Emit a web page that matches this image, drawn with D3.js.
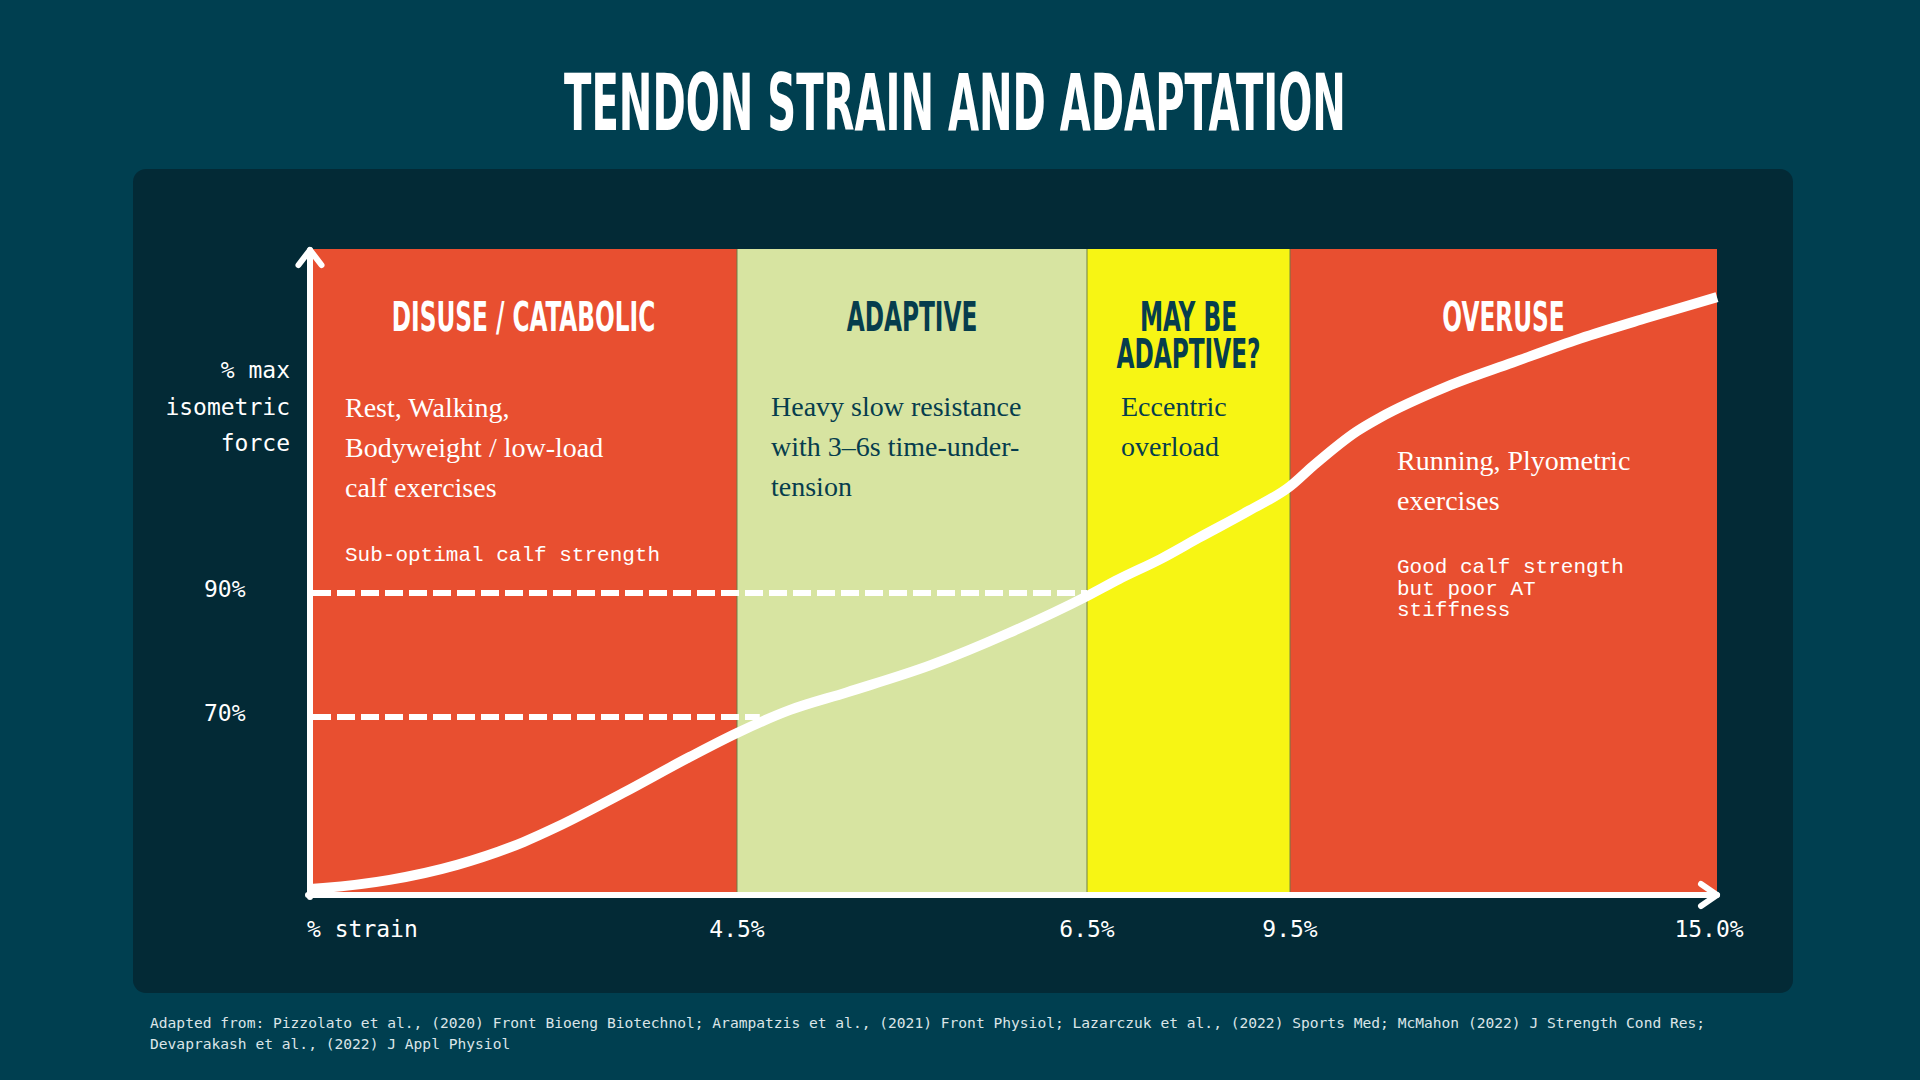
<!DOCTYPE html>
<html>
<head>
<meta charset="utf-8">
<title>Tendon strain and adaptation</title>
<script src="https://cdn.jsdelivr.net/npm/d3@7"></script>
<style>
  body { margin: 0; background: #003f50; }
  svg { display: block; }
</style>
</head>
<body>
<div id="chart"></div>
<script>
// ---- data ----
var strainTicks = [4.5, 6.5, 9.5, 15.0];
var strainLabels = ["4.5%", "6.5%", "9.5%", "15.0%"];
var forceTicks = [70, 90];
var forceLabels = ["70%", "90%"];

var zoneStart = [0, 4.5, 6.5, 9.5];
var zoneEnd = [4.5, 6.5, 9.5, 15];
var zoneTitles = [["DISUSE / CATABOLIC"], ["ADAPTIVE"], ["MAY BE", "ADAPTIVE?"], ["OVERUSE"]];
var zoneActivities = [
  ["Rest, Walking,", "Bodyweight / low-load", "calf exercises"],
  ["Heavy slow resistance", "with 3\u20136s time-under-", "tension"],
  ["Eccentric", "overload"],
  ["Running, Plyometric", "exercises"]
];
var zoneNotes = [
  ["Sub-optimal calf strength"],
  [],
  [],
  ["Good calf strength", "but poor AT", "stiffness"]
];

// force-strain curve
var curveStrain = [0, 0.14, 0.84, 1.55, 2.25, 2.6, 3.3, 4.0, 4.5, 4.8, 5.13, 5.61, 6.05, 6.5,
                   6.97, 7.6, 8.15, 8.9, 9.5, 9.8, 10.36, 10.66, 11.52, 12.37, 13.24, 14.1, 15];
var curveForce = [0, 0.4, 3.7, 9.8, 19.1, 25.2, 39.1, 53.7, 63.5, 71.1, 74.0, 78.4, 83.5, 89.5,
                  90.4, 91.0, 91.6, 92.4, 93.1, 93.7, 94.7, 95.1, 96.0, 96.7, 97.4, 98.0, 98.6];

// dashed reference levels
var refForce = [70, 90];
var refStrainEnd = [4.63, 6.5];

var footnoteLines = [
  "Adapted from: Pizzolato et al., (2020) Front Bioeng Biotechnol; Arampatzis et al., (2021) Front Physiol; Lazarczuk et al., (2022) Sports Med; McMahon (2022) J Strength Cond Res;",
  "Devaprakash et al., (2022) J Appl Physiol"
];

// ---- styles / layout ----
var W = 1920, H = 1080;
var zoneFill = ["#e84f30", "#d7e4a1", "#f7f514", "#e84f30"];
var zoneInk = ["#ffffff", "#063d4d", "#063d4d", "#ffffff"];
var textDx = [35, 34, 34, 107];
var actTop = [417, 416, 416, 470];
var noteTop = [561, 0, 0, 573];
var tickDx = [0, 0, 0, -8];

var condFont = "'Liberation Sans Narrow', 'DejaVu Sans Condensed', 'Roboto', sans-serif";
var serifFont = "'Liberation Serif', 'DejaVu Serif', serif";
var monoFont = "'DejaVu Sans Mono', 'Liberation Mono', monospace";
var noteFont = "'Liberation Mono', 'DejaVu Sans Mono', monospace";

var svg = d3.select("#chart").append("svg")
    .attr("width", W)
    .attr("height", H);

svg.append("rect").attr("width", W).attr("height", H).attr("fill", "#003f50");
svg.append("rect")
    .attr("x", 133).attr("y", 169)
    .attr("width", 1660).attr("height", 824)
    .attr("rx", 13)
    .attr("fill", "#032a36");

// schematic, piecewise scales
var x = d3.scaleLinear()
    .domain([0, 4.5, 6.5, 9.5, 15])
    .range([310, 737, 1087, 1290, 1717]);
var y = d3.scaleLinear()
    .domain([0, 70, 90, 100])
    .range([889, 717, 593, 249]);
var axisY = 895;

// zones
var zones = svg.append("g");
zones.selectAll("rect")
    .data(zoneStart)
    .enter().append("rect")
      .attr("x", function(d){ return x(d); })
      .attr("y", y(100))
      .attr("width", function(d, i){ return x(zoneEnd[i]) - x(d); })
      .attr("height", axisY - y(100))
      .attr("fill", function(d, i){ return zoneFill[i]; });
zones.selectAll("line")
    .data(zoneStart.slice(1))
    .enter().append("line")
      .attr("x1", function(d){ return x(d); })
      .attr("x2", function(d){ return x(d); })
      .attr("y1", y(100))
      .attr("y2", axisY)
      .attr("stroke", "#6a7d47")
      .attr("stroke-width", 1.2)
      .attr("opacity", 0.8);

// dashed reference lines
svg.append("g").selectAll("line")
    .data(refForce)
    .enter().append("line")
      .attr("x1", x(0) + 3)
      .attr("x2", function(d, i){ return x(refStrainEnd[i]); })
      .attr("y1", function(d){ return y(d); })
      .attr("y2", function(d){ return y(d); })
      .attr("stroke", "#ffffff")
      .attr("stroke-width", 6)
      .attr("stroke-dasharray", "18,6");

// curve
var line = d3.line()
    .x(function(d){ return x(d[0]); })
    .y(function(d){ return y(d[1]); })
    .curve(d3.curveMonotoneX);
svg.append("path")
    .attr("d", line(d3.zip(curveStrain, curveForce)))
    .attr("fill", "none")
    .attr("stroke", "#ffffff")
    .attr("stroke-width", 10);

// axes with arrow heads
var axes = svg.append("g")
    .attr("fill", "none")
    .attr("stroke", "#ffffff")
    .attr("stroke-width", 6)
    .attr("stroke-linecap", "round")
    .attr("stroke-linejoin", "round");
axes.append("path").attr("d", d3.line()([[x(0), axisY + 2], [x(0), y(100) + 1]]));
axes.append("path").attr("d", d3.line()([[x(0) - 11.5, y(100) + 16], [x(0), y(100) + 1], [x(0) + 11.5, y(100) + 16]]));
axes.append("path").attr("d", d3.line()([[x(0) - 2, axisY], [x(15), axisY]]));
axes.append("path").attr("d", d3.line()([[x(15) - 16, axisY - 11], [x(15), axisY], [x(15) - 16, axisY + 11]]));

// tick labels
var tickText = svg.append("g")
    .attr("font-family", monoFont)
    .attr("font-size", 23)
    .attr("fill", "#ffffff");
tickText.append("text").attr("x", 307).attr("y", 937).text("% strain");
tickText.selectAll("text.xt")
    .data(strainTicks)
    .enter().append("text")
      .attr("class", "xt")
      .attr("x", function(d, i){ return x(d) + tickDx[i]; })
      .attr("y", 937)
      .attr("text-anchor", "middle")
      .text(function(d, i){ return strainLabels[i]; });
tickText.selectAll("text.yt")
    .data(forceTicks)
    .enter().append("text")
      .attr("class", "yt")
      .attr("x", 204)
      .attr("y", function(d){ return y(d) + 4; })
      .text(function(d, i){ return forceLabels[i]; });
tickText.selectAll("text.ytitle")
    .data(["% max", "isometric", "force"])
    .enter().append("text")
      .attr("class", "ytitle")
      .attr("x", 290)
      .attr("y", function(d, i){ return 378 + i * 36.5; })
      .attr("text-anchor", "end")
      .text(function(d){ return d; });

// condensed headings (scaled horizontally once the font is measured)
function condensed(cx, by, lines, size, color, cls){
  var g = svg.append("g").attr("transform", "translate(" + cx + "," + by + ")");
  var t = g.append("text")
      .attr("class", cls)
      .attr("text-anchor", "middle")
      .attr("font-family", condFont)
      .attr("font-weight", 700)
      .attr("font-size", size)
      .attr("fill", color);
  t.selectAll("tspan")
      .data(lines)
      .enter().append("tspan")
        .attr("x", 0)
        .attr("dy", function(d, j){ return j ? 37 : 0; })
        .text(function(d){ return d; });
  return t;
}
var title = condensed(955, 130, ["TENDON STRAIN AND ADAPTATION"], 78, "#ffffff", "cond-title");

zoneTitles.forEach(function(lines, i){
  var cx = (x(zoneStart[i]) + x(zoneEnd[i])) / 2;
  condensed(cx, 331, lines, 40, zoneInk[i], "cond-head");
});

var k = 782 / title.node().getComputedTextLength();
title.attr("transform", "scale(" + k + ",1)");
svg.selectAll("text.cond-head").attr("transform", "scale(" + (k * 1.13) + ",1)");

// zone descriptions
zoneActivities.forEach(function(lines, i){
  svg.append("g").selectAll("text")
      .data(lines)
      .enter().append("text")
        .attr("x", x(zoneStart[i]) + textDx[i])
        .attr("y", function(d, j){ return actTop[i] + j * 40; })
        .attr("font-family", serifFont)
        .attr("font-size", 28)
        .attr("fill", zoneInk[i])
        .text(function(d){ return d; });
});
zoneNotes.forEach(function(lines, i){
  svg.append("g").selectAll("text")
      .data(lines)
      .enter().append("text")
        .attr("x", x(zoneStart[i]) + textDx[i])
        .attr("y", function(d, j){ return noteTop[i] + j * 21.5; })
        .attr("font-family", noteFont)
        .attr("font-size", 21)
        .attr("fill", zoneInk[i])
        .text(function(d){ return d; });
});

// footnote
svg.append("g").selectAll("text")
    .data(footnoteLines)
    .enter().append("text")
      .attr("x", 150)
      .attr("y", function(d, i){ return 1028 + i * 21; })
      .attr("font-family", monoFont)
      .attr("font-size", 14.6)
      .attr("fill", "#dbe5e8")
      .text(function(d){ return d; });
</script>
</body>
</html>
